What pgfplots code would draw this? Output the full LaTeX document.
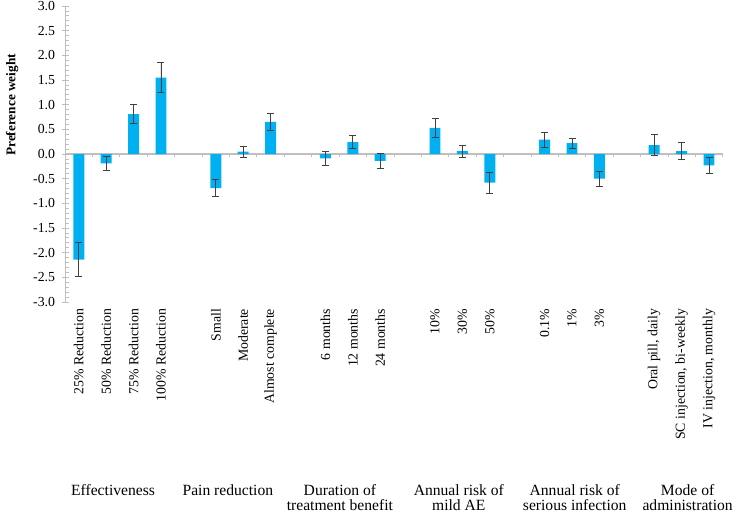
\documentclass[border=0pt]{standalone}
\usepackage{fontspec}
\setmainfont{Liberation Serif}
\usepackage{pgfplots}
\pgfplotsset{compat=1.18}
\definecolor{barblue}{HTML}{00B0F0}
\definecolor{axgray}{HTML}{BFBFBF}
\definecolor{errgray}{HTML}{404040}
\begin{document}
\begin{tikzpicture}
\path[use as bounding box] (-65.1pt,-212pt) rectangle (671.9pt,302pt);
\begin{axis}[
  scale only axis, width=657.6pt, height=296pt,
  xmin=-0.5, xmax=23.5, ymin=-3, ymax=3,
  clip=false,
  axis y line*=left, axis x line*=bottom,
  x axis line style={draw=none},
  y axis line style={axgray, line width=0.8pt},
  ytick={-3,-2.5,...,3},
  minor y tick num=4,
  tick align=center,
  major tick length=7pt, minor tick length=4pt,
  y tick style={axgray, line width=0.8pt},
  minor y tick style={xshift=2pt},
  x tick style={draw=none},
  xtick={0,1,2,3,5,6,7,9,10,11,13,14,15,17,18,19,21,22,23},
  xticklabels={25\% Reduction,50\% Reduction,75\% Reduction,100\% Reduction,
    Small,Moderate,Almost complete,
    6 months,12 months,24 months,
    10\%,30\%,50\%,
    0.1\%,1\%,3\%,
    {Oral pill, daily},{SC injection, bi-weekly},{IV injection, monthly}},
  tick label style={font=\fontsize{13.8}{15}\selectfont},
  xticklabel style={rotate=90, anchor=east},
  yticklabel style={xshift=-3pt},
  /pgf/number format/fixed, /pgf/number format/fixed zerofill,
  /pgf/number format/precision=1, /pgf/number format/assume math mode=true,
  ylabel={Preference weight},
  ylabel style={at={(axis description cs:-0.0806,0.666)}, anchor=center, font=\fontsize{13.3}{15}\selectfont\bfseries},
]
\addplot[axgray, line width=1.3pt, mark=none, forget plot] coordinates {(-0.5,0) (23.5,0)};
\addplot[ycomb, axgray, line width=0.8pt, mark=none, forget plot] coordinates {
 (-0.5,-0.07) (0.5,-0.07) (1.5,-0.07) (2.5,-0.07) (3.5,-0.07) (4.5,-0.07) (5.5,-0.07) (6.5,-0.07)
 (7.5,-0.07) (8.5,-0.07) (9.5,-0.07) (10.5,-0.07) (11.5,-0.07) (12.5,-0.07) (13.5,-0.07) (14.5,-0.07)
 (15.5,-0.07) (16.5,-0.07) (17.5,-0.07) (18.5,-0.07) (19.5,-0.07) (20.5,-0.07) (21.5,-0.07) (22.5,-0.07) (23.5,-0.07)};
\addplot[ybar, bar width=0.4, fill=barblue, draw=none,
  error bars/.cd, y dir=both, y explicit,
  error bar style={errgray, line width=0.9pt},
  error mark options={errgray, rotate=90, mark size=3.5pt, line width=0.9pt}]
 coordinates {
 (0,-2.14) +- (0,0.34)
 (1,-0.19) +- (0,0.15)
 (2,0.81) +- (0,0.20)
 (3,1.55) +- (0,0.30)
 (5,-0.69) +- (0,0.18)
 (6,0.05) +- (0,0.11)
 (7,0.65) +- (0,0.18)
 (9,-0.09) +- (0,0.145)
 (10,0.24) +- (0,0.13)
 (11,-0.14) +- (0,0.145)
 (13,0.53) +- (0,0.20)
 (14,0.06) +- (0,0.12)
 (15,-0.58) +- (0,0.21)
 (17,0.29) +- (0,0.15)
 (18,0.22) +- (0,0.105)
 (19,-0.50) +- (0,0.15)
 (21,0.18) +- (0,0.21)
 (22,0.06) +- (0,0.165)
 (23,-0.23) +- (0,0.16)
 };
\tikzset{grp/.style={anchor=north, inner sep=0pt, align=center, yshift=-182.5pt, font=\fontsize{15.6}{15.2}\selectfont}}
\node[grp] at (axis cs:1.25,-3) {Effectiveness};
\node[grp] at (axis cs:5.44,-3) {Pain reduction};
\node[grp] at (axis cs:9.53,-3) {Duration of\\treatment benefit};
\node[grp] at (axis cs:13.87,-3) {Annual risk of\\mild AE};
\node[grp] at (axis cs:18.1,-3) {Annual risk of\\serious infection};
\node[grp] at (axis cs:22.22,-3) {Mode of\\administration};
\end{axis}
\end{tikzpicture}
\end{document}
